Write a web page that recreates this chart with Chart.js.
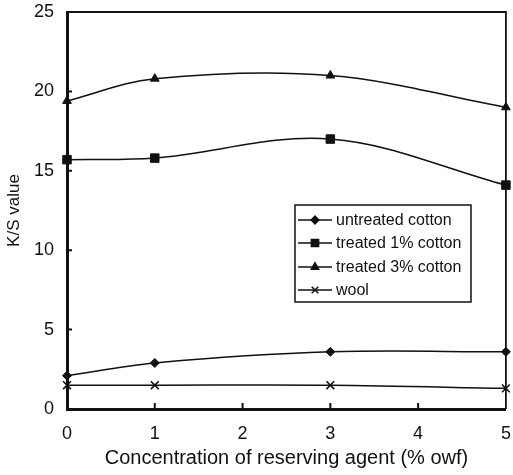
<!DOCTYPE html>
<html>
<head>
<meta charset="utf-8">
<script src="https://cdn.jsdelivr.net/npm/chart.js@4.4.0/dist/chart.umd.min.js"></script>
<style>
  html, body { margin: 0; padding: 0; background: #fff; }
  #wrap { width: 513px; height: 475px; }
</style>
</head>
<body>
<div id="wrap"><canvas id="ks-chart" width="513" height="475"></canvas></div>
<script>
// concentration of reserving agent (% owf)
const concentration = [0, 1, 3, 5];

const seriesNames = ['untreated cotton', 'treated 1% cotton', 'treated 3% cotton', 'wool'];
const untreated = [2.1, 2.9, 3.6, 3.6];
const treated1 = [15.7, 15.8, 17.0, 14.1];
const treated3 = [19.4, 20.8, 21.0, 19.0];
const wool = [1.5, 1.5, 1.5, 1.3];

const xTicks = [0, 1, 2, 3, 4, 5];
const yTicks = [0, 5, 10, 15, 20, 25];

const markers = ['rectRot', 'rect', 'triangle', 'crossRot'];
const markerSize = [4.5, 6, 5, 5.5];

const toPoints = (vals) => vals.map((v, i) => ({ x: concentration[i], y: v }));

const datasets = [untreated, treated1, treated3, wool].map((vals, i) => ({
    label: seriesNames[i],
    data: toPoints(vals),
    showLine: true,
    borderColor: '#111',
    backgroundColor: '#111',
    borderWidth: 1.5,
    tension: 0.35,
    pointStyle: markers[i],
    pointRadius: markerSize[i],
    pointBorderWidth: i === 3 ? 1.6 : 1,
    clip: false,
}));

const FONT = "'Liberation Sans', Arial, sans-serif";

// frame, inner ticks and the boxed legend
const decor = {
    id: 'decor',
    afterDraw(chart) {
        const { ctx, chartArea: a, scales } = chart;
        ctx.save();
        ctx.strokeStyle = '#111';
        // top and right border
        ctx.lineWidth = 1.8;
        ctx.beginPath();
        ctx.moveTo(a.left, a.top);
        ctx.lineTo(a.right, a.top);
        ctx.lineTo(a.right, a.bottom);
        ctx.stroke();
        // inward ticks
        ctx.lineWidth = 2;
        ctx.beginPath();
        yTicks.slice(1, -1).forEach(v => {
            const y = scales.y.getPixelForValue(v);
            ctx.moveTo(a.left, y);
            ctx.lineTo(a.left + 5, y);
        });
        xTicks.slice(1, -1).forEach(v => {
            const x = scales.x.getPixelForValue(v);
            ctx.moveTo(x, a.bottom);
            ctx.lineTo(x, a.bottom - 6);
        });
        ctx.stroke();

        // legend box
        const bx = 295, by = 205, bw = 176, bh = 97;
        ctx.fillStyle = '#fff';
        ctx.fillRect(bx, by, bw, bh);
        ctx.lineWidth = 1.5;
        ctx.strokeRect(bx, by, bw, bh);
        const rows = [220, 243, 267, 290];
        ctx.font = '16px ' + FONT;
        ctx.textBaseline = 'middle';
        chart.data.datasets.forEach((ds, i) => {
            const y = rows[i];
            ctx.strokeStyle = '#111';
            ctx.lineWidth = 1.5;
            ctx.beginPath();
            ctx.moveTo(bx + 3, y);
            ctx.lineTo(bx + 37, y);
            ctx.stroke();
            ctx.fillStyle = '#111';
            Chart.helpers.drawPoint(ctx, {
                pointStyle: ds.pointStyle,
                radius: ds.pointRadius * 0.85,
                borderWidth: ds.pointBorderWidth,
                rotation: 0,
            }, bx + 20, y);
            ctx.fillText(ds.label, bx + 41, y + 1);
        });
        ctx.restore();
    }
};

const config = {
    type: 'scatter',
    data: { datasets },
    options: {
        responsive: false,
        animation: false,
        layout: { padding: { top: 12, right: 1, left: 0, bottom: 0 } },
        plugins: {
            legend: { display: false },
            tooltip: { enabled: false },
        },
        scales: {
            x: {
                type: 'linear',
                min: 0,
                max: 5,
                afterFit(scale) {
                    scale.height = 66;
                    scale.paddingLeft = 0;
                    scale.paddingRight = 0;
                },
                afterBuildTicks(scale) { scale.ticks = xTicks.map(v => ({ value: v })); },
                grid: { display: false, drawTicks: false },
                border: { display: true, color: '#111', width: 3 },
                ticks: {
                    color: '#111',
                    padding: 14,
                    font: { family: FONT, size: 18 },
                },
                title: {
                    display: true,
                    text: 'Concentration of reserving agent (% owf)',
                    color: '#111',
                    font: { family: FONT, size: 20 },
                    padding: { top: 0, bottom: 5 },
                },
            },
            y: {
                type: 'linear',
                min: 0,
                max: 25,
                afterFit(scale) {
                    scale.width = 67;
                    scale.paddingTop = 0;
                    scale.paddingBottom = 0;
                },
                afterBuildTicks(scale) { scale.ticks = yTicks.map(v => ({ value: v })); },
                grid: { display: false, drawTicks: false },
                border: { display: true, color: '#111', width: 3 },
                ticks: {
                    color: '#111',
                    padding: 13,
                    font: { family: FONT, size: 18 },
                },
                title: {
                    display: true,
                    text: 'K/S value',
                    color: '#111',
                    font: { family: FONT, size: 17 },
                    padding: { top: 4, bottom: 0 },
                },
            },
        },
    },
    plugins: [decor],
};

new Chart(document.getElementById('ks-chart'), config);
</script>
</body>
</html>
